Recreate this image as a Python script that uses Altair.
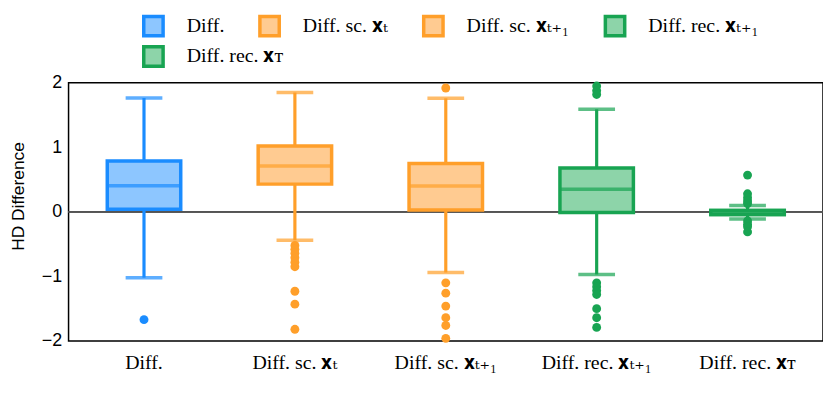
import altair as alt
import pandas as pd

categories = ["Diff.", "Diff. sc. 𝐱ₜ", "Diff. sc. 𝐱ₜ₊₁", "Diff. rec. 𝐱ₜ₊₁", "Diff. rec. 𝐱ᴛ"]
lower_whisker = [-1.02, -0.44, -0.94, -0.97, -0.11]
q1 = [0.04, 0.43, 0.03, -0.01, -0.04]
median = [0.405, 0.71, 0.40, 0.35, 0.0]
q3 = [0.79, 1.02, 0.75, 0.68, 0.02]
upper_whisker = [1.765, 1.85, 1.76, 1.59, 0.10]

outliers = {
    "Diff.": [-1.67],
    "Diff. sc. 𝐱ₜ": [-0.52, -0.58, -0.64, -0.71, -0.78, -0.85, -1.23, -1.43, -1.82],
    "Diff. sc. 𝐱ₜ₊₁": [1.92, -1.10, -1.26, -1.46, -1.64, -1.76, -1.96],
    "Diff. rec. 𝐱ₜ₊₁": [1.95, 1.88, 1.82, -1.10, -1.16, -1.22, -1.28, -1.50, -1.64, -1.79],
    "Diff. rec. 𝐱ᴛ": [0.57, 0.28, 0.22, 0.17, 0.13, -0.14, -0.19, -0.23, -0.31],
}

edge_colors = ["#1a8cff", "#ff9f2a", "#ff9f2a", "#18a452", "#18a452"]
fill_colors = ["#8dc6ff", "#ffcb91", "#ffcb91", "#8dd4a9", "#8dd4a9"]

serif = "'Liberation Serif', 'DejaVu Serif', serif"

stats = pd.DataFrame({
    "cat": categories, "lw": lower_whisker, "q1": q1, "med": median,
    "q3": q3, "uw": upper_whisker,
})
out_df = pd.DataFrame(
    [{"cat": c, "v": v} for c, vals in outliers.items() for v in vals]
)

xenc = alt.X("cat:N", sort=categories, scale=alt.Scale(paddingInner=0, paddingOuter=0),
             axis=alt.Axis(title=None, labelAngle=0, labelFont=serif,
                           labelFontSize=20, labelColor="black", ticks=False,
                           domain=False, grid=False, labelPadding=12))
yscale = alt.Scale(domain=[-2, 2], nice=False, zero=False)
yaxis = alt.Axis(title="HD Difference", titleFont="Liberation Sans", titleFontSize=17.5,
                 titleFontWeight="normal", titleColor="black",
                 titleX=-50, titleY=114, titleAngle=-90, titleAlign="center",
                 titleBaseline="middle",
                 labelFont="Liberation Sans", labelFontSize=18, labelColor="black",
                 values=[-2, -1, 0, 1, 2], ticks=False, domain=False, grid=False,
                 labelPadding=7, labelExpr="replace(datum.label, '-', '−')")
# reversed order so this (legend-less) scale is not merged with the legend scales
cscale = alt.Scale(domain=categories[::-1], range=edge_colors[::-1])

base = alt.Chart(stats)

zero = base.mark_rule(color="#555555", strokeWidth=1.5).encode(
    y=alt.datum(0, scale=yscale, axis=yaxis)
)

whisk_lo = base.mark_rule(strokeWidth=3.2).encode(
    x=xenc, y=alt.Y("lw:Q", scale=yscale, axis=yaxis), y2="q1:Q",
    color=alt.Color("cat:N", scale=cscale, legend=None))
whisk_hi = base.mark_rule(strokeWidth=3.2).encode(
    x=xenc, y=alt.Y("q3:Q", scale=yscale, axis=yaxis), y2="uw:Q",
    color=alt.Color("cat:N", scale=cscale, legend=None))
cap_lo = base.mark_tick(size=37, thickness=3.5).encode(
    x=xenc, y=alt.Y("lw:Q", scale=yscale, axis=yaxis),
    color=alt.Color("cat:N", scale=cscale, legend=None))
cap_hi = base.mark_tick(size=37, thickness=3.5).encode(
    x=xenc, y=alt.Y("uw:Q", scale=yscale, axis=yaxis),
    color=alt.Color("cat:N", scale=cscale, legend=None))

# first legend row: four entries
legend_a = alt.Legend(title=None, values=categories[:4], direction="horizontal",
                      orient="none", legendX=74, legendY=-69, columnPadding=28)
box = base.mark_bar(size=74, strokeWidth=3.5).encode(
    x=xenc, y=alt.Y("q1:Q", scale=yscale, axis=yaxis), y2="q3:Q",
    fill=alt.Fill("cat:N", sort=categories,
                  scale=alt.Scale(domain=categories, range=fill_colors),
                  legend=legend_a),
    stroke=alt.Stroke("cat:N", sort=categories,
                      scale=alt.Scale(domain=categories, range=edge_colors),
                      legend=legend_a),
)
# second legend row: last entry (same box drawn again on top)
last = categories[4:]
legend_b = alt.Legend(title=None, direction="horizontal",
                      orient="none", legendX=74, legendY=-38)
box_b = alt.Chart(stats.iloc[4:]).mark_bar(size=74, strokeWidth=3.5).encode(
    x=xenc, y=alt.Y("q1:Q", scale=yscale, axis=yaxis), y2="q3:Q",
    fill=alt.Fill("cat:N", scale=alt.Scale(domain=last, range=fill_colors[4:]),
                  legend=legend_b),
    stroke=alt.Stroke("cat:N", scale=alt.Scale(domain=last, range=edge_colors[4:]),
                      legend=legend_b),
)
med = base.mark_tick(size=74, thickness=3.5).encode(
    x=xenc, y=alt.Y("med:Q", scale=yscale, axis=yaxis),
    color=alt.Color("cat:N", scale=cscale, legend=None))

pts = alt.Chart(out_df).mark_circle(size=80, opacity=1).encode(
    x=xenc, y=alt.Y("v:Q", scale=yscale, axis=yaxis),
    color=alt.Color("cat:N", scale=cscale, legend=None))

chart = alt.layer(
    zero, whisk_lo, whisk_hi, cap_lo, cap_hi, box, box_b, med, pts
).resolve_scale(
    fill="independent", stroke="independent"
).resolve_legend(
    fill="independent", stroke="independent"
).properties(
    width=760, height=260,
    background="white",
    autosize=alt.AutoSizeParams(type="none"),
    padding={"left": 61, "top": 74, "right": 0, "bottom": 40},
).configure_view(stroke="black", strokeWidth=1.5).configure_axis(grid=False).configure_legend(
    symbolType="square", symbolSize=380,
    symbolStrokeWidth=3.5, symbolOpacity=1, labelFont=serif,
    labelFontSize=20, labelColor="black", labelOffset=22, labelLimit=300,
)

chart.save("out.html", embed_options={"renderer": "svg", "actions": False})
